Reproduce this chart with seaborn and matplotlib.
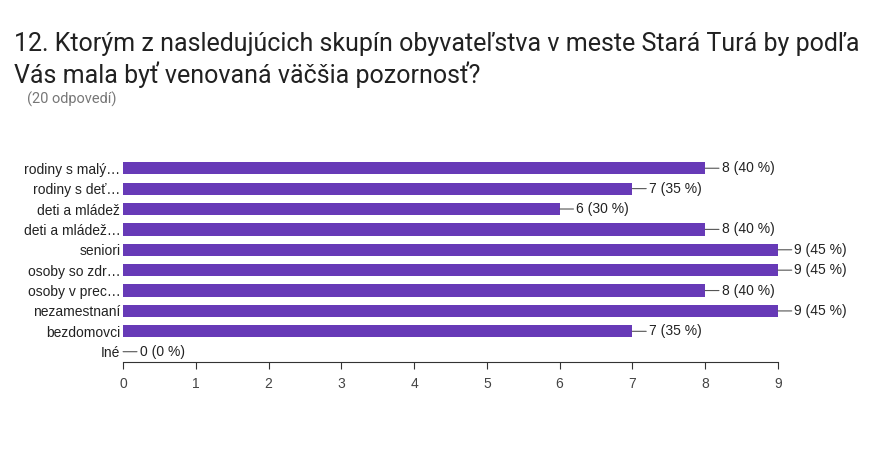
import matplotlib
matplotlib.use("Agg")
import matplotlib.pyplot as plt
import seaborn as sns
import pandas as pd

categories = ["rodiny s malý…", "rodiny s deť…", "deti a mládež", "deti a mládež…", "seniori",
              "osoby so zdr…", "osoby v prec…", "nezamestnaní", "bezdomovci", "Iné"]
counts = [8, 7, 6, 8, 9, 9, 8, 9, 7, 0]
percents = [40, 35, 30, 40, 45, 45, 40, 45, 35, 0]
xticks = list(range(10))

plt.rcParams["font.family"] = "Liberation Sans"
df = pd.DataFrame({"cat": categories, "n": counts})
fig = plt.figure(figsize=(8.92, 4.49), dpi=100)
ax = fig.add_axes([0.138, 0.194, 0.734, 0.454])
sns.barplot(data=df, y="cat", x="n", color="#673ab7", saturation=1, width=0.6, ax=ax, orient="h")
ax.set_xlim(0, 9)
ax.set_ylim(9.5, -0.5)
ax.set_xticks(xticks)
ax.set_xlabel(""); ax.set_ylabel("")
for s in ["top", "right", "left"]:
    ax.spines[s].set_visible(False)
ax.spines["bottom"].set_color("#333333")
ax.tick_params(axis="y", length=0, labelsize=10, labelcolor="#222222", pad=2)
ax.tick_params(axis="x", length=5, labelsize=10, labelcolor="#444444", color="#333333", pad=6)
for i, (c, p) in enumerate(zip(counts, percents)):
    ax.annotate(f"{c} ({p} %)", xy=(c, i), xytext=(12, 0), textcoords="offset points",
                va="center", ha="left", fontsize=10, color="#222222",
                arrowprops=dict(arrowstyle="-", color="#555555", lw=0.8, shrinkA=0, shrinkB=0),
                annotation_clip=False)
fig.text(0.016, 0.866, "12. Ktorým z nasledujúcich skupín obyvateľstva v meste Stará Turá by podľa\nVás mala byť venovaná väčšia pozornosť?",
         fontsize=18, family="Roboto", color="#212121", va="center", linespacing=1.25)
fig.text(0.03, 0.778, "(20 odpovedí)", fontsize=10.5, family="Roboto", color="#777777", va="center")
fig.savefig("out.png", dpi=100)
